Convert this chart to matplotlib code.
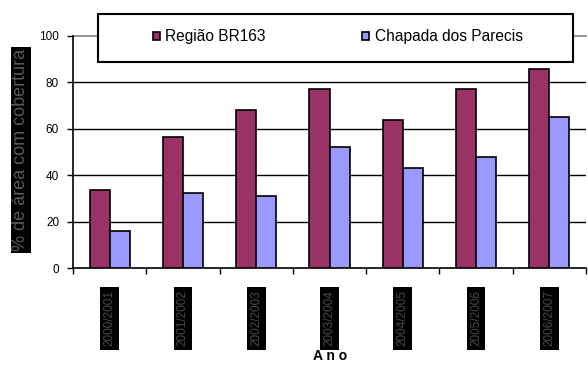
import matplotlib.pyplot as plt
import numpy as np
from matplotlib.patches import Rectangle

plt.rcParams['font.family'] = ['Liberation Sans', 'DejaVu Sans']

anos = ["2000/2001", "2001/2002", "2002/2003", "2003/2004",
        "2004/2005", "2005/2006", "2006/2007"]
br163 = [33.5, 56.6, 67.9, 77.3, 63.7, 77.2, 85.7]
parecis = [16.2, 32.5, 31.0, 52.3, 43.0, 48.0, 65.1]

fig = plt.figure(figsize=(5.88, 3.65), dpi=100)
ax = fig.add_axes([73 / 588, 1 - 268.3 / 365, 513 / 588, 232.5 / 365])

x = np.arange(len(anos))
w = 0.273
ax.bar(x - w / 2, br163, w, color='#993366', edgecolor='black', linewidth=1.2,
       label='Região BR163', zorder=3)
ax.bar(x + w / 2, parecis, w, color='#9999FF', edgecolor='black', linewidth=1.2,
       label='Chapada dos Parecis', zorder=3)

ax.set_xlim(-0.5, len(anos) - 0.5)
ax.set_ylim(0, 100)
ax.set_yticks([0, 20, 40, 60, 80, 100])
for v in [20, 40, 60, 80]:
    ax.axhline(v, color='black', linewidth=1, zorder=0)
ax.axhline(100, color='#808080', linewidth=1.2, zorder=0, clip_on=False)
ax.set_xticks(np.arange(len(anos) + 1) - 0.5)
ax.set_xticklabels([])
ax.tick_params(axis='x', length=4, width=1, direction='out')
ax.tick_params(axis='y', length=4, width=1, direction='out', labelsize=8.5, pad=6)
for s in ['top', 'right']:
    ax.spines[s].set_visible(False)
ax.spines['left'].set_linewidth(1.2)
ax.spines['bottom'].set_linewidth(1.2)

# rotated year labels on dark boxes
for i, a in enumerate(anos):
    ax.text(i, -9.5, a, rotation=90, ha='center', va='top', fontsize=8.5,
            color='#4a4a4a', clip_on=False,
            bbox=dict(facecolor='black', edgecolor='none', pad=2.5))

fig.text(21 / 588, 1 - 150 / 365, '% de área com cobertura', rotation=90,
         ha='center', va='center', fontsize=13, color='#5a5a5a',
         bbox=dict(facecolor='black', edgecolor='none', pad=1))

fig.text(330 / 588, 1 - 356 / 365, 'A n o', ha='center', va='center',
         fontsize=10, fontweight='bold')

# legend frame drawn separately, legend itself frameless
frame = Rectangle((98 / 588, 1 - 62 / 365), 475 / 588, 48 / 365,
                  transform=fig.transFigure, facecolor='white',
                  edgecolor='black', linewidth=1.5, zorder=4, clip_on=False)
ax.add_patch(frame)
leg = ax.legend(loc='center left', bbox_to_anchor=(145 / 588, 1 - 37 / 365),
                bbox_transform=fig.transFigure, ncol=2, frameon=False,
                fontsize=11.2, handlelength=0.45, handleheight=0.45,
                handletextpad=0.35, columnspacing=6.2, borderpad=0)
leg.set_zorder(5)

fig.savefig('out.png', dpi=100)
